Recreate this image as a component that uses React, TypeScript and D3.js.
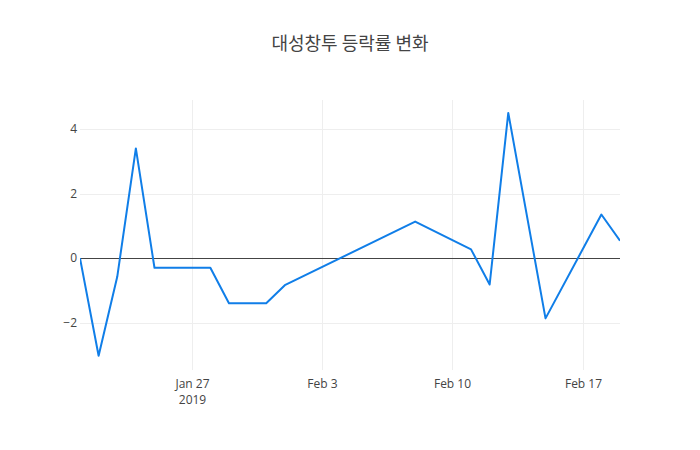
import React from "react";
import * as d3 from "d3";

const title = "대성창투 등락률 변화";
const dates = [
  "2019-01-21", "2019-01-22", "2019-01-23", "2019-01-24", "2019-01-25",
  "2019-01-28", "2019-01-29", "2019-01-31", "2019-02-01",
  "2019-02-08", "2019-02-11", "2019-02-12", "2019-02-13",
  "2019-02-15", "2019-02-18", "2019-02-19",
];
const values = [
  0, -3.03, -0.58, 3.4, -0.3,
  -0.3, -1.4, -1.4, -0.84,
  1.13, 0.27, -0.82, 4.5,
  -1.87, 1.35, 0.54,
];
const yTicks = [-2, 0, 2, 4];
const xTickDates = ["2019-01-27", "2019-02-03", "2019-02-10", "2019-02-17"];
const xTickLabels = [["Jan 27", "2019"], ["Feb 3"], ["Feb 10"], ["Feb 17"]];

const W = 700, H = 450;
const M = { l: 80, r: 80, t: 100, b: 80 };

export default function App() {
  const parse = d3.utcParse("%Y-%m-%d");
  const data = dates.map((d, i) => ({ x: parse(d) as Date, y: values[i] }));
  const x = d3.scaleUtc()
    .domain(d3.extent(data, (d) => d.x) as [Date, Date])
    .range([M.l, W - M.r]);
  const y = d3.scaleLinear().domain([-3.47, 4.9]).range([H - M.b, M.t]);
  const line = d3.line<{ x: Date; y: number }>().x((d) => x(d.x)).y((d) => y(d.y));
  const font = "'Open Sans', sans-serif";
  const crisp = (v: number) => Math.round(v) + 0.5;
  return (
    <svg width={W} height={H} style={{ position: "absolute", left: 0, top: 0, background: "#fff" }}>
      <text x={W / 2} y={50} textAnchor="middle" fontFamily="'Noto Sans CJK KR', sans-serif" fontSize={18} fill="#444">{title}</text>
      <defs>
        <clipPath id="plot">
          <rect x={M.l} y={M.t} width={W - M.l - M.r} height={H - M.t - M.b} />
        </clipPath>
      </defs>
      {xTickDates.map((d, i) => {
        const xx = crisp(x(parse(d) as Date));
        return (
          <g key={d}>
            <line x1={xx} x2={xx} y1={M.t} y2={H - M.b} stroke="#eee" strokeWidth={1} />
            {xTickLabels[i].map((t, j) => (
              <text key={j} x={xx} y={H - M.b + 14 + 4 + j * 16} textAnchor="middle" fontFamily={font} fontSize={12} fill="#444">{t}</text>
            ))}
          </g>
        );
      })}
      {yTicks.map((t) => (
        <g key={t}>
          {t !== 0 && <line x1={M.l} x2={W - M.r} y1={crisp(y(t))} y2={crisp(y(t))} stroke="#eee" strokeWidth={1} />}
          <text x={M.l - 3} y={y(t) + 4} textAnchor="end" fontFamily={font} fontSize={12} fill="#444">{t < 0 ? "\u2212" + Math.abs(t) : t}</text>
        </g>
      ))}
      <line x1={M.l} x2={W - M.r} y1={crisp(y(0))} y2={crisp(y(0))} stroke="#444" strokeWidth={1} />
      <path d={line(data) || ""} fill="none" stroke="rgb(16,126,232)" strokeWidth={2} strokeLinejoin="round" clipPath="url(#plot)" />
    </svg>
  );
}
